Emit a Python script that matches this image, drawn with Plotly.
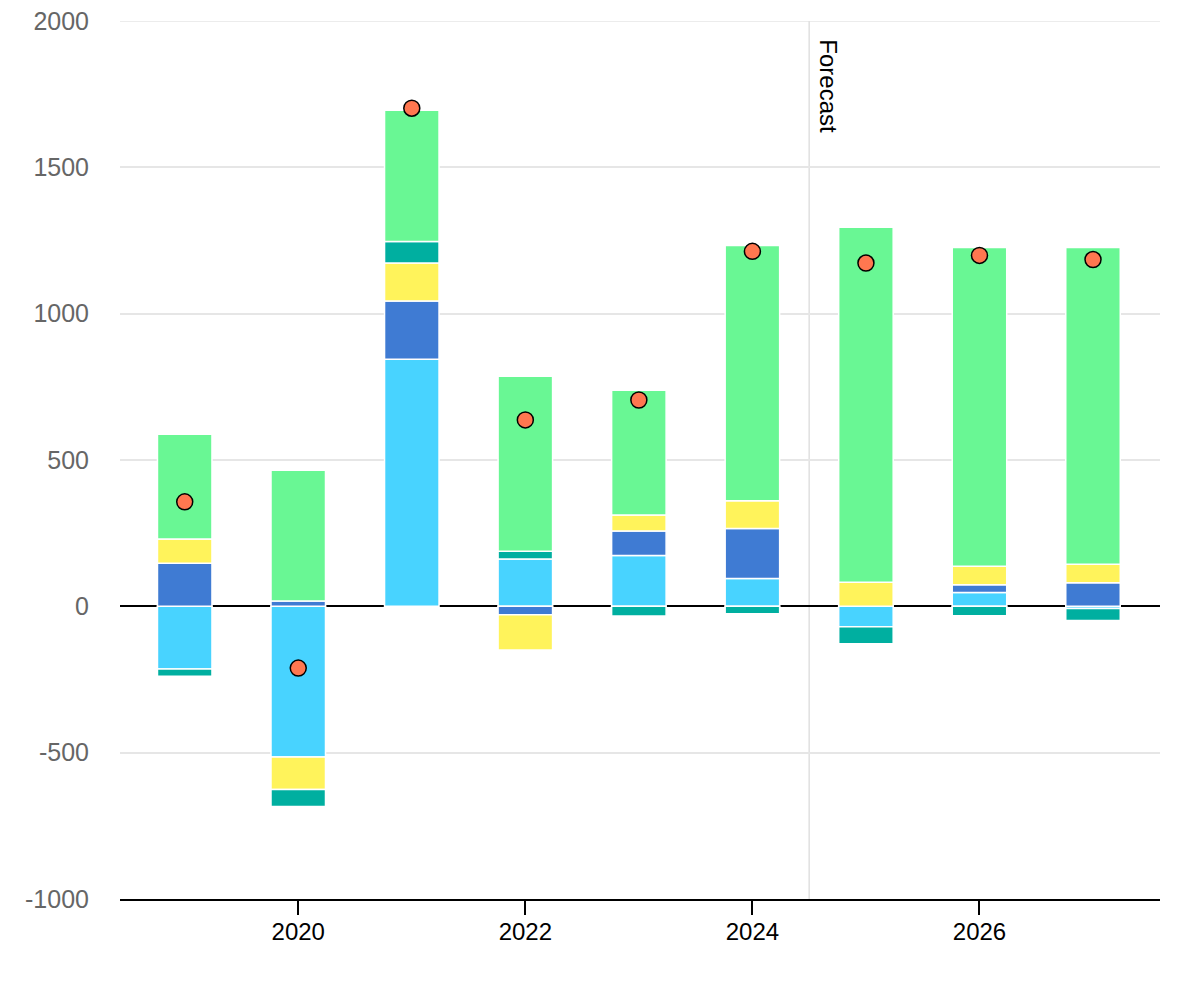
import plotly.graph_objects as go

years = [2019, 2020, 2021, 2022, 2023, 2024, 2025, 2026, 2027]

light_blue = [-214, -515, 844, 162, 174, 95, -70, 47, -7]
blue = [147, 18, 199, -29, 83, 171, 0, 27, 81]
yellow = [83, -111, 130, -120, 55, 95, 82, 63, 63]
teal = [-25, -58, 74, 26, -33, -25, -58, -32, -41]
green = [358, 447, 448, 598, 426, 872, 1213, 1089, 1082]
net_total = [357, -211, 1702, 637, 705, 1213, 1173, 1199, 1185]

forecast_x = 2024.5
y_ticks = [-1000, -500, 0, 500, 1000, 1500, 2000]
y_tick_text = ["-1000", "-500", "0", "500", "1000", "1500", "2000"]
x_ticks = [2020, 2022, 2024, 2026]

series = [
    ("Light blue", light_blue, "#48D3FF"),
    ("Blue", blue, "#3F7BD3"),
    ("Yellow", yellow, "#FFF35B"),
    ("Teal", teal, "#00AFA0"),
    ("Green", green, "#69F794"),
]

fig = go.Figure()
for name, vals, col in series:
    fig.add_trace(go.Bar(
        x=years, y=vals, name=name, width=0.48,
        marker=dict(color=col, line=dict(color="white", width=1.5)),
    ))

fig.add_trace(go.Scatter(
    x=years, y=net_total, mode="markers", name="Total",
    marker=dict(color="#FF7750", size=16, line=dict(color="black", width=1.5)),
))

# top gridline (plotly omits gridlines at the very edge of the range)
fig.add_shape(type="line", x0=0, x1=1, y0=y_ticks[-1], y1=y_ticks[-1],
              xref="paper", yref="y", line=dict(color="#e6e6e6", width=1.5),
              layer="below")
fig.add_shape(type="line", x0=forecast_x, x1=forecast_x, y0=0, y1=1,
              xref="x", yref="paper", line=dict(color="#e0e0e0", width=1.5),
              layer="below")
fig.add_annotation(x=forecast_x, y=1, xref="x", yref="paper", text="Forecast",
                   showarrow=False, textangle=90, xanchor="left", yanchor="top",
                   xshift=4, yshift=-16, font=dict(size=24, color="black"))

fig.update_layout(
    width=1200, height=1000,
    barmode="relative",
    bargap=0.5,
    showlegend=False,
    plot_bgcolor="white", paper_bgcolor="white",
    margin=dict(l=112, r=48, t=13, b=109, autoexpand=False),
    font=dict(family="Liberation Sans, Arial, sans-serif", size=25),
    xaxis=dict(range=[2018.43, 2027.59], tickvals=x_ticks,
               ticks="outside", ticklen=14, tickwidth=2, tickcolor="black",
               ticklabelstandoff=-4, automargin=False,
               showline=True, linecolor="black", linewidth=2,
               showgrid=False, zeroline=False,
               tickfont=dict(color="black", size=24)),
    yaxis=dict(range=[-1000, 2000], tickvals=y_ticks, ticktext=y_tick_text,
               showgrid=True, gridcolor="#e6e6e6", gridwidth=1.5,
               zeroline=True, zerolinecolor="black", zerolinewidth=2,
               showline=False, ticklabelstandoff=30, automargin=False,
               ticklabeloverflow="allow",
               tickfont=dict(color="#666666", size=25)),
)

fig.write_html("out.html")
